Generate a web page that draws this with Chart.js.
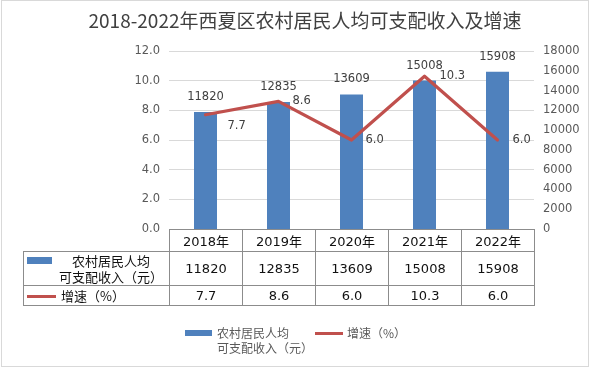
<!DOCTYPE html>
<html>
<head>
<meta charset="utf-8">
<script src="https://cdn.jsdelivr.net/npm/chart.js@4.4.1/dist/chart.umd.min.js"></script>
<style>
  body { margin: 0; background: #fff; }
  #box { position: relative; width: 592px; height: 368px; overflow: hidden; background: #fff; }
  #frame { position: absolute; left: 1px; top: 0; width: 588px; height: 367px; box-sizing: border-box; border: 1px solid #d9d9d9; }
  #chart { position: absolute; left: 0; top: 0; }
  #title { position: absolute; left: 0; width: 610px; top: 6px; text-align: center;
    font: 19px "Noto Sans CJK SC", sans-serif; color: #404040; white-space: nowrap; }
  #tbl { position: absolute; left: 23px; top: 229px; border-collapse: collapse; table-layout: fixed;
    font: 13px "DejaVu Sans", "Noto Sans CJK SC", sans-serif; color: #111; }
  #tbl td { border: 1px solid #8c8c8c; padding: 0; text-align: center; vertical-align: middle; }
  #tbl td.corner { border-top: none; border-left: none; }
  .cellwrap { position: relative; height: 100%; }
  .sw { position: absolute; }
  .lg { position: absolute; font: 12px "Noto Sans CJK SC", sans-serif; color: #595959; white-space: pre-line; line-height: 15px; }
  .lgsw { position: absolute; }
</style>
</head>
<body>
<div id="box">
  <div id="frame"></div>
  <canvas id="chart" width="592" height="368"></canvas>
  <div id="title">2018-2022年西夏区农村居民人均可支配收入及增速</div>
  <table id="tbl"></table>
  <div id="legend"></div>
</div>
<script>
var years = ['2018年', '2019年', '2020年', '2021年', '2022年'];
var income = [11820, 12835, 13609, 15008, 15908];
var growth = [7.7, 8.6, 6.0, 10.3, 6.0];
var seriesNames = ['农村居民人均\n可支配收入（元）', '增速（%）'];
var leftTicks = { min: 0, max: 12, step: 2 };
var rightTicks = { min: 0, max: 18000, step: 2000 };

var barColor = '#4f81bd';
var lineColor = '#c0504d';

// label offsets for the growth values (Excel moved the first one a bit)
var growthNudge = [[22, 11], [14, 0], [14, 0], [15, 0], [15, 0]];

var valueLabels = {
  id: 'valueLabels',
  afterDatasetsDraw: function (chart) {
    var ctx = chart.ctx;
    ctx.save();
    ctx.font = '11.5px "DejaVu Sans"';
    ctx.fillStyle = '#404040';
    ctx.textBaseline = 'middle';
    ctx.textAlign = 'center';
    chart.getDatasetMeta(1).data.forEach(function (bar, i) {
      ctx.fillText(String(income[i]), bar.x, bar.y - 15);
    });
    ctx.textAlign = 'left';
    chart.getDatasetMeta(0).data.forEach(function (pt, i) {
      ctx.fillText(growth[i].toFixed(1), pt.x + growthNudge[i][0], pt.y + growthNudge[i][1]);
    });
    ctx.restore();
  }
};

var tickFont = { family: 'DejaVu Sans', size: 11.5 };

new Chart(document.getElementById('chart'), {
  data: {
    labels: years,
    datasets: [{
      type: 'line',
      label: seriesNames[1],
      data: growth,
      yAxisID: 'yL',
      borderColor: lineColor,
      borderWidth: 3.2,
      pointRadius: 0,
      tension: 0,
      borderJoinStyle: 'round',
      borderCapStyle: 'round',
      order: 0
    }, {
      type: 'bar',
      label: seriesNames[0],
      data: income,
      yAxisID: 'yR',
      backgroundColor: barColor,
      categoryPercentage: 1,
      barPercentage: 0.315,
      order: 1
    }]
  },
  options: {
    responsive: false,
    devicePixelRatio: 1,
    animation: false,
    layout: { padding: { top: 51, bottom: 139, left: 0, right: 0 } },
    plugins: { legend: { display: false }, tooltip: { enabled: false }, title: { display: false } },
    scales: {
      x: { display: false, offset: true },
      yL: {
        position: 'left',
        min: leftTicks.min, max: leftTicks.max,
        ticks: { stepSize: leftTicks.step, padding: 9, color: '#595959', font: tickFont,
          callback: function (v) { return v.toFixed(1); } },
        grid: { color: '#d9d9d9', drawTicks: false },
        border: { display: false },
        afterFit: function (s) { s.width = 169; }
      },
      yR: {
        position: 'right',
        min: rightTicks.min, max: rightTicks.max,
        ticks: { stepSize: rightTicks.step, padding: 9, color: '#595959', font: tickFont,
          callback: function (v) { return String(v); } },
        grid: { display: false, drawTicks: false },
        border: { display: false },
        afterFit: function (s) { s.width = 58; }
      }
    }
  },
  plugins: [valueLabels]
});

// data table under the plot
var tbl = document.getElementById('tbl');
var html = '<colgroup><col style="width:146px">';
years.forEach(function () { html += '<col style="width:73px">'; });
html += '</colgroup>';
html += '<tr style="height:22px"><td class="corner"></td>';
years.forEach(function (y) { html += '<td>' + y + '</td>'; });
html += '</tr>';
html += '<tr style="height:34px"><td><div class="cellwrap" style="height:33px">' +
  '<div class="sw" style="left:3px;top:5px;width:25px;height:7px;background:' + barColor + '"></div>' +
  '<div style="position:absolute;left:33px;width:108px;top:1px;line-height:16px;white-space:pre-line;font-family:\'Noto Sans CJK SC\'">' + seriesNames[0] + '</div>' +
  '</div></td>';
income.forEach(function (v) { html += '<td>' + v + '</td>'; });
html += '</tr>';
html += '<tr style="height:20px"><td><div class="cellwrap" style="height:19px">' +
  '<div class="sw" style="left:3px;top:9px;width:29px;height:3px;background:' + lineColor + '"></div>' +
  '<div style="position:absolute;left:37px;top:0;line-height:19px;font-family:\'Noto Sans CJK SC\'">' + seriesNames[1] + '</div>' +
  '</div></td>';
growth.forEach(function (v) { html += '<td>' + v.toFixed(1) + '</td>'; });
html += '</tr>';
tbl.innerHTML = html;

// legend at the bottom
var lg = document.getElementById('legend');
lg.innerHTML =
  '<div class="lgsw" style="left:185px;top:330px;width:27px;height:6px;background:' + barColor + '"></div>' +
  '<div class="lg" style="left:217px;top:325px">' + seriesNames[0] + '</div>' +
  '<div class="lgsw" style="left:315px;top:332px;width:28px;height:3px;background:' + lineColor + '"></div>' +
  '<div class="lg" style="left:347px;top:325px">' + seriesNames[1] + '</div>';
</script>
</body>
</html>
